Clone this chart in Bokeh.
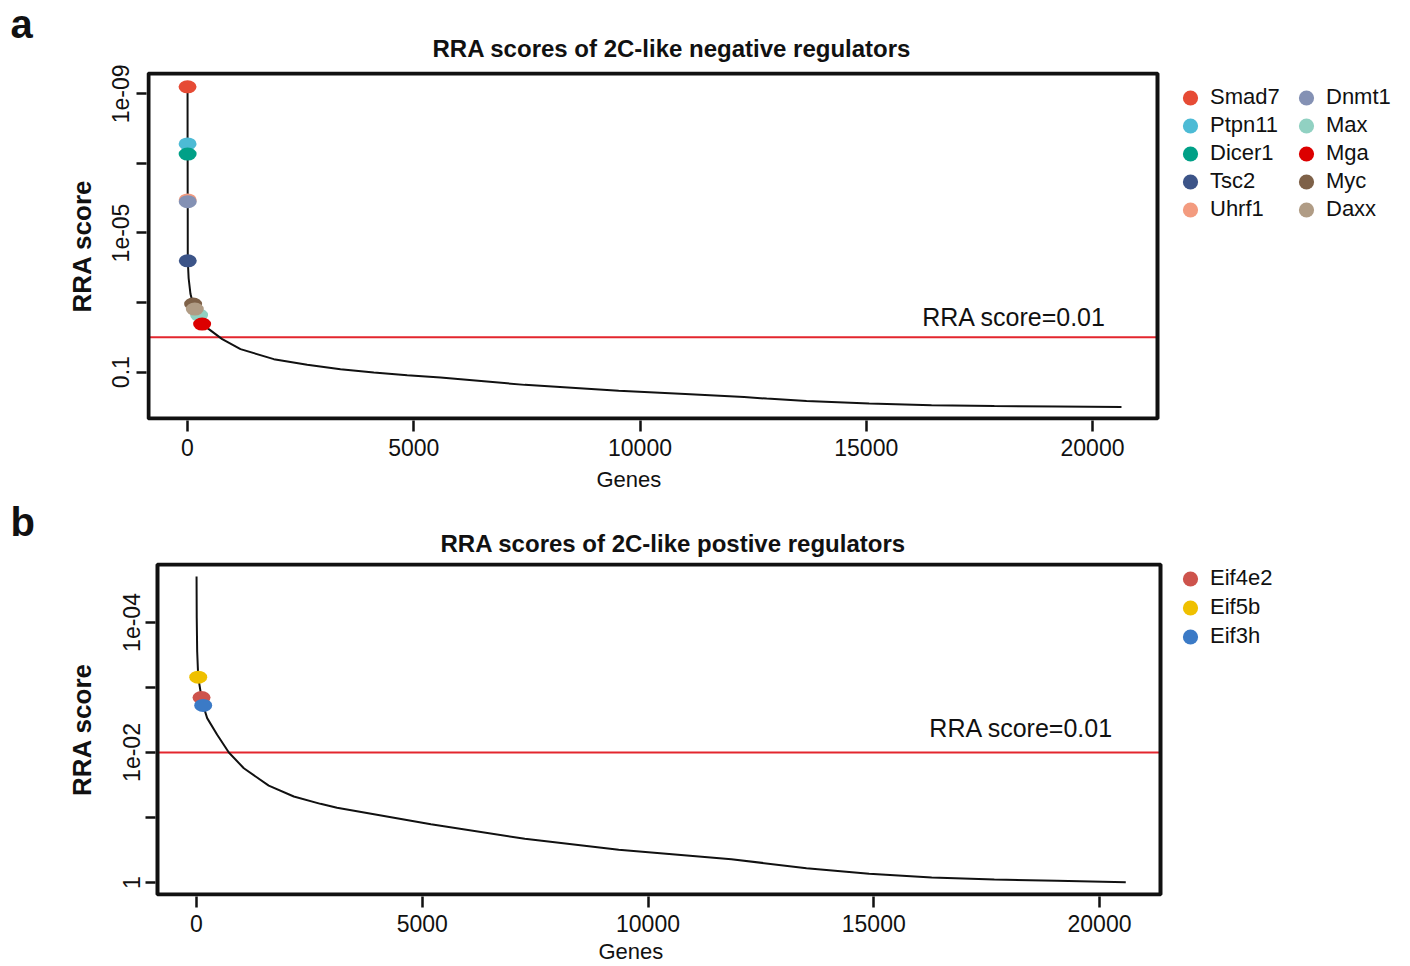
from bokeh.plotting import figure
from bokeh.models import (Range1d, FixedTicker, Label, Legend, LegendItem, Title,
                          BoxAnnotation)
from bokeh.layouts import column
from bokeh.embed import file_html
from bokeh.resources import INLINE

FONT = "Liberation Sans"

# ---------------- data: panel a (negative regulators) ----------------
neg_rank = [1, 2, 3, 4, 5, 6, 25, 66, 124, 161, 256, 323, 471, 767, 1171, 1907,
            2645, 3381, 4117, 4855, 5591, 7454, 9529, 11000, 12300, 12800, 13680,
            15063, 16442, 17830, 19213, 20640]
neg_score = [6.3e-10, 2.75e-8, 5.4e-8, 1.12e-6, 1.26e-6, 6.3e-5, 2.0e-4, 5.7e-4,
             1.10e-3, 1.54e-3, 2.29e-3, 4.16e-3, 5.8e-3, 0.0112, 0.0218, 0.0423,
             0.0617, 0.082, 0.1026, 0.122, 0.143, 0.232, 0.345, 0.427, 0.514, 0.575,
             0.67, 0.80, 0.89, 0.94, 0.97, 1.0]
neg_genes = ["Smad7", "Ptpn11", "Dicer1", "Tsc2", "Uhrf1", "Dnmt1", "Max", "Mga", "Myc", "Daxx"]
neg_gene_rank = [1, 2, 3, 6, 4, 5, 256, 323, 124, 161]
neg_gene_score = [6.3e-10, 2.75e-8, 5.4e-8, 6.3e-5, 1.12e-6, 1.26e-6, 2.29e-3, 4.16e-3, 1.10e-3, 1.54e-3]
neg_colors = ["#E64B35", "#4DBBD5", "#00A087", "#3C5488", "#F39B7F",
              "#8491B4", "#91D1C2", "#DC0000", "#7E6148", "#B09C85"]
neg_yticks = [1e-9, 1e-7, 1e-5, 1e-3, 0.1]
neg_ylabels = ["1e-09", "", "1e-05", "", "0.1"]

# ---------------- data: panel b (positive regulators) ----------------
pos_rank = [1, 5, 15, 38, 111, 148, 236, 458, 716, 1048, 1600, 2155, 2746, 3112,
            5192, 7271, 9351, 11847, 13510, 14897, 16283, 17670, 19056, 20582]
pos_score = [1.96e-5, 8.5e-5, 2.8e-4, 6.95e-4, 1.43e-3, 1.89e-3, 2.96e-3, 5.35e-3,
             0.0100, 0.0175, 0.0324, 0.0475, 0.0617, 0.0708, 0.127, 0.213, 0.314,
             0.439, 0.603, 0.735, 0.838, 0.90, 0.942, 0.99]
pos_genes = ["Eif4e2", "Eif5b", "Eif3h"]
pos_gene_rank = [111, 38, 148]
pos_gene_score = [1.43e-3, 6.95e-4, 1.89e-3]
pos_colors = ["#CD534C", "#EFC000", "#3B7AC6"]
pos_yticks = [1e-4, 1e-3, 1e-2, 0.1, 1.0]
pos_ylabels = ["1e-04", "", "1e-02", "", "1"]

x_ticks = [0, 5000, 10000, 15000, 20000]
threshold = 0.01

FRAME_LEFT = 146      # canvas px, shared by both panels (column aligns frames)
CANVAS_W = 1408

# text styles for the stacked title bands
STYLES = {
    "title": dict(text_font_size="24px", text_font_style="bold"),
    "letter": dict(text_font_size="40px", text_font_style="bold"),
    "xlabel": dict(text_font_size="22px", text_font_style="normal"),
    "spacer": dict(text_font_size="2px", text_font_style="normal"),
}


def band(text, kind, offset, standoff, valign="bottom"):
    return Title(text=text, align="left", offset=offset, standoff=standoff,
                 vertical_align=valign, text_font=FONT, text_color="#111111",
                 **STYLES[kind])


def make_panel(cfg):
    # box (the visible plot region) in pixels and in data units
    bl, br, bt, bb = cfg["box_px"]
    x0, x1 = cfg["box_x"]
    ylo, yhi = cfg["box_ylog"]          # log10 value at box bottom / box top
    ux = (x1 - x0) / (br - bl)
    uy = (ylo - yhi) / (bb - bt)
    ft, fb = cfg["frame_tb"]
    xs = x0 - (bl - FRAME_LEFT) * ux
    xe = x1 + (CANVAS_W - br) * ux
    y_bottom = ylo + (fb - bb) * uy
    y_top = yhi - (bt - ft) * uy

    p = figure(frame_width=CANVAS_W - FRAME_LEFT, frame_height=fb - ft,
               x_range=Range1d(xs, xe),
               y_range=Range1d(10 ** y_bottom, 10 ** y_top),
               y_axis_type="log", output_backend="svg", toolbar_location=None,
               min_border_top=cfg["mt"], min_border_bottom=cfg["mb"],
               min_border_left=FRAME_LEFT, min_border_right=0)
    p.background_fill_color = "white"
    p.border_fill_color = "white"
    p.outline_line_color = None
    p.xgrid.visible = False
    p.ygrid.visible = False

    # text bands above the frame (first = nearest to the frame)
    for t in cfg["above"]:
        p.add_layout(t, "above")

    # x axis
    xa = p.xaxis[0]
    xa.ticker = FixedTicker(ticks=x_ticks, minor_ticks=[])
    xa.axis_line_color = None
    xa.major_tick_out = 11
    xa.major_tick_in = 0
    xa.major_tick_line_width = 2.5
    xa.major_tick_line_color = "#111111"
    xa.major_label_text_font = FONT
    xa.major_label_text_font_size = "23px"
    xa.major_label_text_color = "#111111"
    xa.major_label_standoff = 7
    for t in cfg["below"]:
        p.add_layout(t, "below")

    # y axis
    ya = p.yaxis[0]
    ya.ticker = FixedTicker(ticks=cfg["yticks"], minor_ticks=[])
    ya.major_label_overrides = {t: l for t, l in zip(cfg["yticks"], cfg["ylabels"])}
    ya.major_label_orientation = "vertical"
    ya.axis_label = "RRA score"
    ya.axis_line_color = None
    ya.major_tick_out = cfg["ytick_out"]
    ya.major_tick_in = cfg["ytick_in"]
    ya.major_tick_line_width = 2.5
    ya.major_tick_line_color = "#111111"
    ya.minor_tick_line_color = None
    ya.major_label_text_font = FONT
    ya.major_label_text_font_size = "23px"
    ya.major_label_text_color = "#111111"
    ya.major_label_standoff = cfg["yl_standoff"]
    ya.axis_label_text_font = FONT
    ya.axis_label_text_font_size = "26px"
    ya.axis_label_text_font_style = "bold"
    ya.axis_label_text_color = "#111111"
    ya.axis_label_standoff = cfg["ya_standoff"]

    # threshold line and its note
    p.segment(x0=[x0], y0=[threshold], x1=[x1], y1=[threshold],
              line_color="#E3262E", line_width=2)
    p.add_layout(Label(x=18270, y=threshold, text="RRA score=0.01",
                       text_align="center", text_baseline="middle",
                       y_offset=cfg["thr_offset"], text_font=FONT,
                       text_font_size="25px", text_color="#111111"))

    # ranked curve
    p.line(cfg["ranks"], cfg["scores"], line_color="#111111", line_width=2)

    # highlighted genes
    items = []
    for name, r, s, c in zip(cfg["genes"], cfg["g_rank"], cfg["g_score"], cfg["colors"]):
        p.ellipse(x=[r], y=[s], width=18, height=13,
                  width_units="screen", height_units="screen",
                  fill_color=c, line_color=None)
        proxy = p.ellipse(x=[float("nan")], y=[float("nan")], width=15, height=15,
                          width_units="screen", height_units="screen",
                          fill_color=c, line_color=None)
        items.append(LegendItem(label=name, renderers=[proxy]))

    # box around the data region
    p.add_layout(BoxAnnotation(left=x0, right=x1, bottom=10 ** ylo, top=10 ** yhi,
                               fill_alpha=0, line_color="#111111", line_alpha=1.0,
                               line_width=4))

    lg = cfg["legend"]
    leg = Legend(items=items, location=lg["loc"], orientation="vertical",
                 nrows=lg["nrows"], margin=0, padding=0,
                 glyph_width=40, glyph_height=19, label_standoff=0,
                 label_width=76, label_height=lg["lh"], spacing=lg["sp"],
                 label_text_font=FONT, label_text_font_size="22px",
                 label_text_color="#111111",
                 border_line_color=None, background_fill_alpha=0)
    p.add_layout(leg, "center")
    return p


# panel a: canvas rows 0..465; box 148..1157 x 73..418, frame 71..420
pa = make_panel(dict(
    above=[band("RRA scores of 2C-like negative regulators", "title", 286, 19),
           band("a", "letter", 10 - FRAME_LEFT, -44.6),
           band(" ", "spacer", 0, 16)],
    below=[],
    box_px=(148, 1157, 73, 418), box_x=(-862, 21436), box_ylog=(0.332, -9.584),
    frame_tb=(71, 420), mt=71, mb=45,
    ranks=neg_rank, scores=neg_score, genes=neg_genes, g_rank=neg_gene_rank,
    g_score=neg_gene_score, colors=neg_colors,
    yticks=neg_yticks, ylabels=neg_ylabels,
    ytick_out=10, ytick_in=0, yl_standoff=7, ya_standoff=13, thr_offset=20,
    legend=dict(loc=(1024, 197), nrows=5, lh=28, sp=0)))

# panel b: starts at canvas y=465 (also carries panel a's "Genes" at its top)
# box 157..1160 x 98..428 (local), frame 96..430 (local)
pb = make_panel(dict(
    above=[band("RRA scores of 2C-like postive regulators", "title", 294, 12),
           band("b", "letter", 10 - FRAME_LEFT, -44.7),
           band(" ", "spacer", 0, 21.4),
           band("Genes", "xlabel", 450, 2, valign="top")],
    below=[band("Genes", "xlabel", 452, 5, valign="bottom")],
    box_px=(157, 1160, 98, 428), box_x=(-864, 21351), box_ylog=(0.185, -4.892),
    frame_tb=(96, 430), mt=96, mb=0,
    ranks=pos_rank, scores=pos_score, genes=pos_genes, g_rank=pos_gene_rank,
    g_score=pos_gene_score, colors=pos_colors,
    yticks=pos_yticks, ylabels=pos_ylabels,
    ytick_out=1, ytick_in=9, yl_standoff=5, ya_standoff=24, thr_offset=24,
    legend=dict(loc=(1024, 247), nrows=3, lh=24, sp=3)))

layout = column(pa, pb, spacing=0)
open("out.html", "w").write(file_html(layout, INLINE))
